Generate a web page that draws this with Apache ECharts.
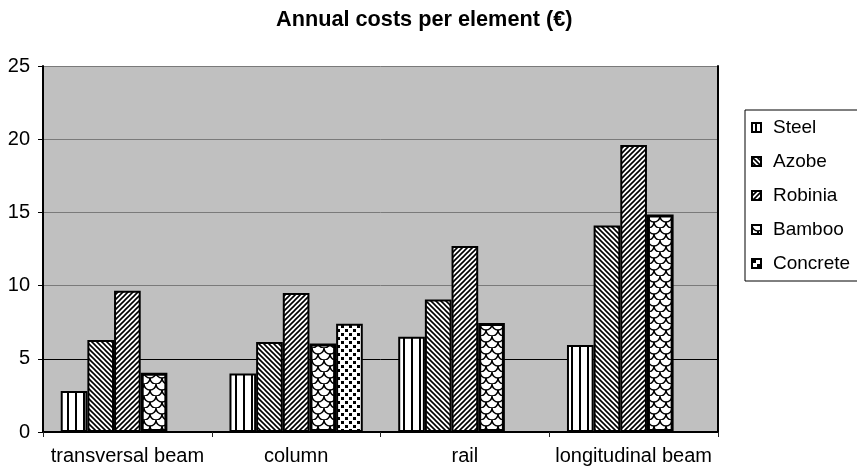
<!DOCTYPE html>
<html>
<head>
<meta charset="utf-8">
<script src="https://cdn.jsdelivr.net/npm/echarts@6/dist/echarts.min.js"></script>
<style>
  html, body { margin: 0; padding: 0; background: #fff; }
  #chart { width: 857px; height: 470px; }
</style>
</head>
<body>
<div id="chart"></div>
<script>
// Annual costs per element, by material (€)
const categories = ['transversal beam', 'column', 'rail', 'longitudinal beam'];
const seriesNames = ['Steel', 'Azobe', 'Robinia', 'Bamboo', 'Concrete'];
const steel    = [2.8, 4.0, 6.5, 5.95];
const azobe    = [6.28, 6.15, 9.05, 14.1];
const robinia  = [9.65, 9.5, 12.7, 19.6];
const bamboo   = [4.05, 6.05, 7.45, 14.85];
const concrete = [null, 7.4, null, null];
const yMin = 0, yMax = 25, yStep = 5;

const FONT = '"Liberation Sans", Arial, sans-serif';

// Small repeating black-and-white fill tiles
function tile(w, h, draw) {
  const c = document.createElement('canvas');
  c.width = w; c.height = h;
  const g = c.getContext('2d');
  g.fillStyle = '#fff'; g.fillRect(0, 0, w, h);
  g.fillStyle = '#000'; g.strokeStyle = '#000';
  draw(g, w, h);
  return { image: c, repeat: 'repeat' };
}
const fills = {
  Steel: tile(8, 8, g => { g.fillRect(3, 0, 2, 8); }),
  Azobe: tile(5, 5, g => {
    g.lineWidth = 1.6; g.beginPath();
    g.moveTo(-1, -1); g.lineTo(6, 6);
    g.moveTo(-1, 4); g.lineTo(1, 6);
    g.moveTo(4, -1); g.lineTo(6, 1);
    g.stroke();
  }),
  Robinia: tile(5, 5, g => {
    g.lineWidth = 1.6; g.beginPath();
    g.moveTo(-1, 6); g.lineTo(6, -1);
    g.moveTo(-1, 1); g.lineTo(1, -1);
    g.moveTo(4, 6); g.lineTo(6, 4);
    g.stroke();
  }),
  Bamboo: tile(12, 12, g => {
    g.lineWidth = 1.5;
    g.beginPath(); g.arc(6, 0, 6, 0, Math.PI); g.stroke();
    g.beginPath(); g.arc(0, 6, 6, 0, Math.PI); g.stroke();
    g.beginPath(); g.arc(12, 6, 6, 0, Math.PI); g.stroke();
  }),
  Concrete: tile(8, 8, g => {
    g.fillRect(1, 1, 3, 3);
    g.fillRect(5, 5, 3, 3);
  })
};

const values = { Steel: steel, Azobe: azobe, Robinia: robinia, Bamboo: bamboo, Concrete: concrete };

const series = seriesNames.map(name => ({
  name: name,
  type: 'bar',
  data: values[name],
  barGap: '0%',
  barCategoryGap: '21%',
  itemStyle: {
    color: fills[name],
    borderColor: '#000',
    borderWidth: name === 'Bamboo' ? 3 : 2
  }
}));

const chart = echarts.init(document.getElementById('chart'), null, { renderer: 'canvas' });
chart.setOption({
  animation: false,
  backgroundColor: '#fff',
  title: {
    text: 'Annual costs per element (€)',
    left: 271,
    top: 4,
    textStyle: { fontFamily: FONT, fontSize: 21.7, fontWeight: 'bold', color: '#000' }
  },
  legend: {
    orient: 'vertical',
    left: 745,
    top: 110,
    data: seriesNames,
    itemWidth: 9,
    itemHeight: 9,
    itemGap: 15,
    icon: 'rect',
    backgroundColor: '#fff',
    borderColor: '#000',
    borderWidth: 1,
    borderRadius: 0,
    padding: [8, 20, 8, 6],
    textStyle: { fontFamily: FONT, fontSize: 19, color: '#000', padding: [0, 0, 0, 7] }
  },
  grid: {
    left: 43, right: 139, top: 66, bottom: 38,
    show: true,
    backgroundColor: '#c0c0c0',
    borderWidth: 0
  },
  xAxis: {
    type: 'category',
    data: categories,
    axisLine: { show: true, lineStyle: { color: '#000', width: 2 } },
    axisTick: { show: true, length: 5, lineStyle: { color: '#222', width: 1 } },
    axisLabel: { interval: 0, fontFamily: FONT, fontSize: 20, color: '#000', margin: 14 },
    splitLine: { show: false }
  },
  yAxis: [
    {
      type: 'value',
      min: yMin, max: yMax, interval: yStep,
      axisLine: { show: true, lineStyle: { color: '#000', width: 2 } },
      axisTick: { show: true, length: 5, lineStyle: { color: '#000', width: 1 } },
      axisLabel: { fontFamily: FONT, fontSize: 20, color: '#000', margin: 13 },
      splitLine: {
        show: true,
        lineStyle: { color: ['#000', '#000', '#7a7a7a', '#7a7a7a', '#7a7a7a', '#7a7a7a'], width: 1 }
      }
    },
    {
      type: 'value',
      position: 'right',
      min: yMin, max: yMax, interval: yStep,
      axisLine: { show: true, lineStyle: { color: '#000', width: 2 } },
      axisTick: { show: false },
      axisLabel: { show: false },
      splitLine: { show: false }
    }
  ],
  series: series
});
</script>
</body>
</html>
